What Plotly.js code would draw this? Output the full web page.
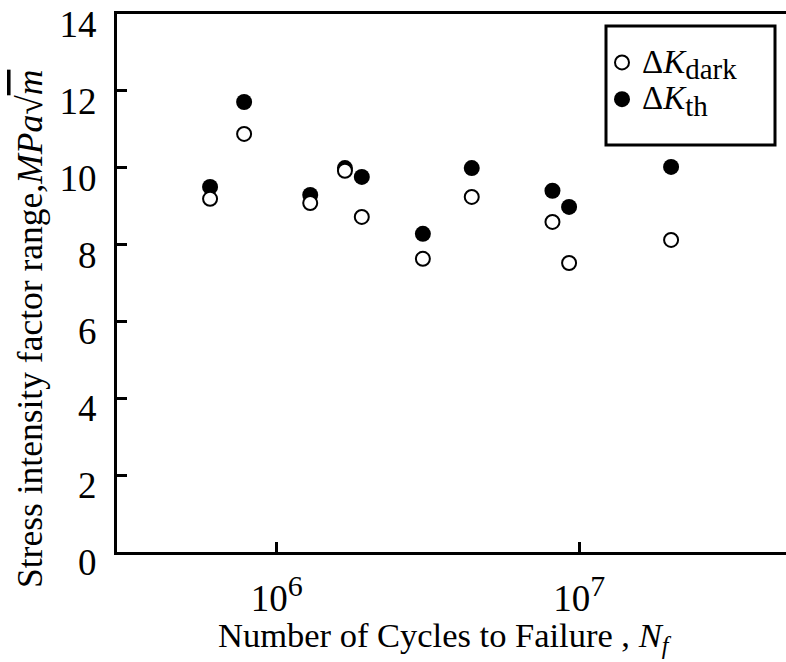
<!DOCTYPE html>
<html>
<head>
<meta charset="utf-8">
<script src="https://cdn.plot.ly/plotly-3.0.1.min.js"></script>
<style>html,body{margin:0;padding:0;background:#fff;}</style>
</head>
<body>
<div id="chart" style="width:786px;height:662px;"></div>
<script>
// Number of cycles to failure (shared by both series)
const cyclesTh   = [6.02e5, 7.80e5, 1.29e6, 1.68e6, 1.91e6, 3.04e6, 4.41e6, 8.15e6, 9.25e6, 2.01e7];
const kTh        = [9.50, 11.71, 9.29, 9.99, 9.76, 8.28, 9.99, 9.40, 8.98, 10.02];
const cyclesDark = [6.02e5, 7.80e5, 1.29e6, 1.68e6, 1.91e6, 3.04e6, 4.41e6, 8.15e6, 9.25e6, 2.01e7];
const kDark      = [9.19, 10.88, 9.08, 9.92, 8.72, 7.63, 9.24, 8.59, 7.52, 8.12];
const xTickVals  = [1e6, 1e7];
const xTickText  = ['10<sup><span style="font-size:30px">6</span></sup>', '10<sup><span style="font-size:30px">7</span></sup>'];
const yTickVals  = [0, 2, 4, 6, 8, 10, 12, 14];
const nameDark   = '<span style="font-size:33px">Δ<i>K</i><sub><span style="font-size:29px">dark</span></sub></span>';
const nameTh     = '<span style="font-size:33px">Δ<i>K</i><sub><span style="font-size:29px">th</span></sub></span>';
const xTitle     = 'Number of Cycles to Failure , <i>N<sub>f</sub></i>';
const yTitle     = 'Stress intensity factor range,<i>MPa</i>√<span style="text-decoration:overline"><i>m</i></span>';

const FONT = 'Liberation Serif, Times New Roman, serif';

const traces = [
  {
    x: cyclesTh, y: kTh, name: nameTh, type: 'scatter', mode: 'markers',
    legendrank: 2,
    marker: {symbol: 'circle', size: 16, color: '#000', line: {width: 0}}
  },
  {
    x: cyclesDark, y: kDark, name: nameDark, type: 'scatter', mode: 'markers',
    legendrank: 1,
    marker: {symbol: 'circle', size: 14, color: '#fff', line: {width: 2, color: '#000'}}
  }
];

const layout = {
  width: 786, height: 662,
  margin: {l: 117, r: 0, t: 14, b: 110},
  paper_bgcolor: '#fff', plot_bgcolor: '#fff',
  font: {family: FONT, color: '#000', size: 30},
  showlegend: true,
  legend: {
    x: (602 - 117) / 669, y: (552 - 39) / 538, xanchor: 'left', yanchor: 'top',
    borderwidth: 0, bgcolor: 'rgba(0,0,0,0)',
    font: {family: FONT, size: 26, color: '#000'},
    itemwidth: 30, tracegroupgap: 0
  },
  shapes: [{
    type: 'rect', xref: 'paper', yref: 'paper',
    x0: (606 - 117) / 669, x1: (775 - 117) / 669,
    y0: (552 - 145) / 538, y1: (552 - 26) / 538,
    line: {color: '#000', width: 3}, fillcolor: 'rgba(0,0,0,0)', layer: 'above'
  }],
  xaxis: {
    type: 'log', range: [5.472, 7.683],
    tickvals: xTickVals, ticktext: xTickText,
    ticks: 'inside', ticklen: 10, tickwidth: 3, tickcolor: '#000',
    showline: true, linewidth: 3, linecolor: '#000', mirror: true,
    showgrid: false, zeroline: false,
    tickfont: {family: FONT, size: 37, color: '#000'},
    ticklabelstandoff: 12
  },
  yaxis: {
    range: [0, 14],
    tickvals: yTickVals,
    ticks: 'inside', ticklen: 10, tickwidth: 3, tickcolor: '#000',
    showline: true, linewidth: 3, linecolor: '#000', mirror: false,
    showgrid: false, zeroline: false,
    tickfont: {family: FONT, size: 37, color: '#000'},
    ticklabelstandoff: 10,
    ticklabelshift: 10
  },
  annotations: [{
    text: yTitle,
    xref: 'paper', yref: 'paper', x: (30 - 117) / 669, y: (552 - 329) / 538,
    xanchor: 'center', yanchor: 'middle',
    textangle: -90, showarrow: false,
    font: {family: FONT, size: 35.5, color: '#000'}
  }, {
    text: xTitle,
    xref: 'paper', yref: 'paper', x: (445 - 117) / 669, y: (552 - 637) / 538,
    xanchor: 'center', yanchor: 'middle',
    showarrow: false,
    font: {family: FONT, size: 34.5, color: '#000'}
  }]
};

Plotly.newPlot('chart', traces, layout, {displayModeBar: false, staticPlot: true});
</script>
</body>
</html>
